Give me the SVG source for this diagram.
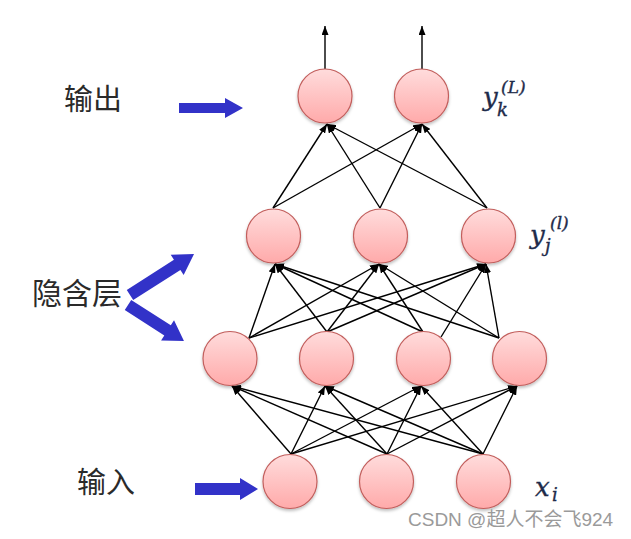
<svg xmlns="http://www.w3.org/2000/svg" width="631" height="539" viewBox="0 0 631 539">
<style>
.edge{stroke:#000;stroke-width:1.4;fill:none;marker-end:url(#ah)}
.node{fill:url(#ng);stroke:#c25e5c;stroke-width:1.2;filter:url(#sh)}
.blue{fill:#3232c8}
.cn{font-family:"Noto Sans CJK SC",sans-serif;fill:#2a2a2a}
.m{font-family:"DejaVu Serif",serif;font-style:italic;fill:#1e2b4a;stroke:#1e2b4a;stroke-width:0.35}
.wm{font-family:"Liberation Sans","Noto Sans CJK SC",sans-serif;fill:#9a9a9a;font-size:19px}
</style>
<defs>
<linearGradient id="ng" x1="0" y1="0" x2="0" y2="1">
<stop offset="0" stop-color="#ffdcdc"/>
<stop offset="1" stop-color="#ffaaaa"/>
</linearGradient>
<filter id="sh" x="-20%" y="-20%" width="140%" height="150%">
<feDropShadow dx="0" dy="2" stdDeviation="1.5" flood-color="#000" flood-opacity="0.25"/>
</filter>
<marker id="ah" markerUnits="userSpaceOnUse" markerWidth="9" markerHeight="7" refX="9" refY="3.5" orient="auto">
<path d="M0,0 L9,3.5 L0,7 Z" fill="#000"/>
</marker>
</defs>
<rect width="631" height="539" fill="#fff"/>
<g id="connectors">
<line class="edge" x1="291" y1="454" x2="232" y2="386"/>
<line class="edge" x1="291" y1="454" x2="325" y2="386"/>
<line class="edge" x1="291" y1="454" x2="421" y2="386"/>
<line class="edge" x1="291" y1="454" x2="517" y2="386"/>
<line class="edge" x1="387" y1="454" x2="232" y2="386"/>
<line class="edge" x1="387" y1="454" x2="325" y2="386"/>
<line class="edge" x1="387" y1="454" x2="421" y2="386"/>
<line class="edge" x1="387" y1="454" x2="517" y2="386"/>
<line class="edge" x1="483" y1="454" x2="232" y2="386"/>
<line class="edge" x1="483" y1="454" x2="325" y2="386"/>
<line class="edge" x1="483" y1="454" x2="421" y2="386"/>
<line class="edge" x1="483" y1="454" x2="517" y2="386"/>
<line class="edge" x1="249" y1="338" x2="275" y2="264"/>
<line class="edge" x1="249" y1="338" x2="379" y2="264"/>
<line class="edge" x1="249" y1="338" x2="486" y2="264"/>
<line class="edge" x1="327" y1="332" x2="275" y2="264"/>
<line class="edge" x1="327" y1="332" x2="379" y2="264"/>
<line class="edge" x1="327" y1="332" x2="486" y2="264"/>
<line class="edge" x1="423" y1="332" x2="275" y2="264"/>
<line class="edge" x1="423" y1="332" x2="379" y2="264"/>
<line class="edge" x1="441" y1="337" x2="486" y2="264"/>
<line class="edge" x1="499" y1="338" x2="275" y2="264"/>
<line class="edge" x1="499" y1="338" x2="379" y2="264"/>
<line class="edge" x1="499" y1="338" x2="486" y2="264"/>
<line class="edge" x1="273" y1="208" x2="327" y2="124"/>
<line class="edge" x1="273" y1="208" x2="422" y2="124"/>
<line class="edge" x1="380" y1="208" x2="327" y2="124"/>
<line class="edge" x1="380" y1="208" x2="422" y2="124"/>
<line class="edge" x1="487" y1="208" x2="327" y2="124"/>
<line class="edge" x1="487" y1="208" x2="422" y2="124"/>
<line class="edge" x1="325" y1="69" x2="325" y2="26"/>
<line class="edge" x1="422" y1="69" x2="422" y2="26"/>
</g>
<g id="input-layer">
<circle id="x1" class="node" cx="290" cy="481.5" r="27"/>
<circle id="x2" class="node" cx="386.5" cy="481.5" r="27"/>
<circle id="x3" class="node" cx="483.5" cy="481.5" r="27"/>
</g>
<g id="hidden-layer-1">
<circle id="h1" class="node" cx="230" cy="358.5" r="27"/>
<circle id="h2" class="node" cx="326.5" cy="358.5" r="27"/>
<circle id="h3" class="node" cx="423.5" cy="358.5" r="27"/>
<circle id="h4" class="node" cx="519.5" cy="358.5" r="27"/>
</g>
<g id="hidden-layer-2">
<circle id="g1" class="node" cx="273.5" cy="236" r="27"/>
<circle id="g2" class="node" cx="380.5" cy="236" r="27"/>
<circle id="g3" class="node" cx="488.5" cy="236" r="27"/>
</g>
<g id="output-layer">
<circle id="o1" class="node" cx="325" cy="96" r="27"/>
<circle id="o2" class="node" cx="421.5" cy="96" r="27"/>
</g>
<g id="labels">
<text class="cn" x="64" y="110" font-size="29">输出</text>
<text class="cn" x="32" y="304" font-size="30">隐含层</text>
<text class="cn" x="77" y="493" font-size="29">输入</text>
<polygon class="blue" points="179,103 225,103 225,98 243,108 225,118 225,113 179,113"/>
<polygon class="blue" points="195,483 240,483 240,478 258,489 240,500 240,495 195,495"/>
<polygon class="blue" transform="translate(130,295) rotate(-32.6)" points="0,-6 56,-6 56,-12 76,0 56,12 56,6 0,6"/>
<polygon class="blue" transform="translate(128,305) rotate(32.7)" points="0,-6 47,-6 47,-12 66.5,0 47,12 47,6 0,6"/>
<text class="m" x="483" y="106" font-size="26">y</text>
<text class="m" x="497" y="116" font-size="18">k</text>
<text class="m" x="501" y="93" font-size="17">(L)</text>
<text class="m" x="530" y="244" font-size="26">y</text>
<text class="m" x="545" y="252" font-size="18">j</text>
<text class="m" x="550" y="229" font-size="17">(l)</text>
<text class="m" x="535" y="496" font-size="26">x</text>
<text class="m" x="552" y="501" font-size="18">i</text>
<text class="wm" x="408" y="526">CSDN @超人不会飞924</text>
</g>
</svg>
